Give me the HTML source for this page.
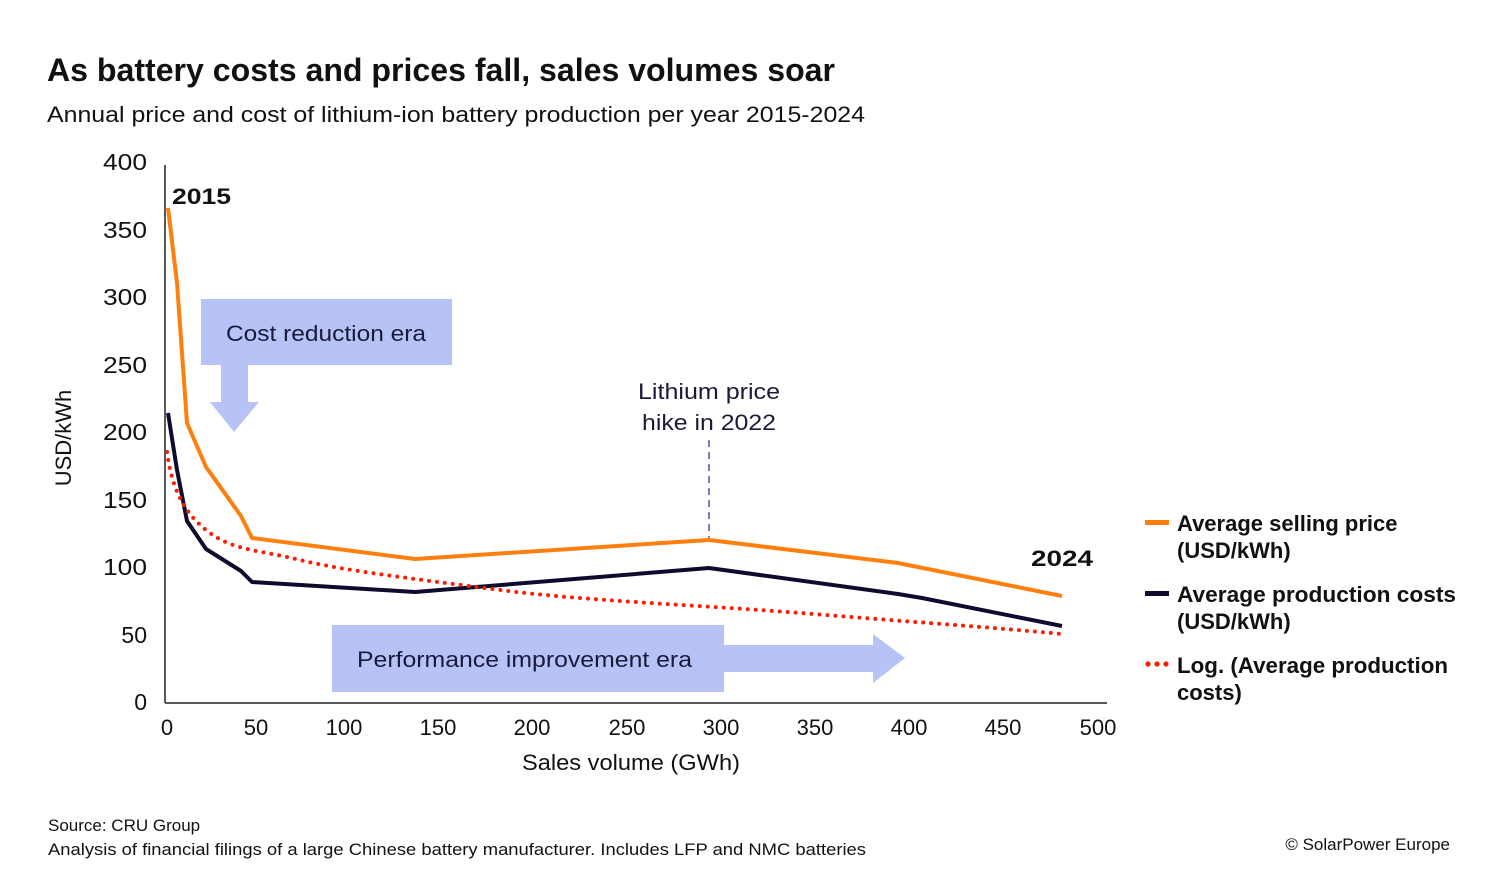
<!DOCTYPE html>
<html><head><meta charset="utf-8"><style>
html,body{margin:0;padding:0;background:#fff;}
svg{display:block;font-family:"Liberation Sans",sans-serif;}
</style></head><body>
<svg width="1500" height="876" viewBox="0 0 1500 876" xmlns="http://www.w3.org/2000/svg">
<rect width="1500" height="876" fill="#fff"/>
<text x="47" y="81" font-size="32" font-weight="bold" fill="#111" textLength="788" lengthAdjust="spacingAndGlyphs">As battery costs and prices fall, sales volumes soar</text>
<text x="47" y="122" font-size="22" fill="#111" textLength="818" lengthAdjust="spacingAndGlyphs">Annual price and cost of lithium-ion battery production per year 2015-2024</text>

<!-- boxes -->
<rect x="201" y="299" width="251" height="66" fill="#b7c3f6"/>
<rect x="221" y="365" width="27" height="37" fill="#b7c3f6"/>
<polygon points="210,402 259,402 234,432" fill="#b7c3f6"/>
<text x="226" y="341" font-size="22" fill="#1a1a3a" textLength="200" lengthAdjust="spacingAndGlyphs">Cost reduction era</text>
<rect x="332" y="625" width="392" height="67" fill="#b7c3f6"/>
<rect x="724" y="645" width="149" height="27" fill="#b7c3f6"/>
<polygon points="873,634 905,658 873,683" fill="#b7c3f6"/>
<text x="357" y="667" font-size="22" fill="#1a1a3a" textLength="335" lengthAdjust="spacingAndGlyphs">Performance improvement era</text>

<!-- axes -->
<line x1="165" y1="165" x2="165" y2="703" stroke="#222" stroke-width="1.5"/>
<line x1="165" y1="703" x2="1107" y2="703" stroke="#222" stroke-width="1.5"/>
<g font-size="23" fill="#111" text-anchor="end">
<text x="147" y="170" textLength="44" lengthAdjust="spacingAndGlyphs">400</text><text x="147" y="238" textLength="44" lengthAdjust="spacingAndGlyphs">350</text><text x="147" y="305" textLength="44" lengthAdjust="spacingAndGlyphs">300</text>
<text x="147" y="373" textLength="44" lengthAdjust="spacingAndGlyphs">250</text><text x="147" y="440" textLength="44" lengthAdjust="spacingAndGlyphs">200</text><text x="147" y="508" textLength="44" lengthAdjust="spacingAndGlyphs">150</text>
<text x="147" y="575" textLength="44" lengthAdjust="spacingAndGlyphs">100</text><text x="147" y="643">50</text><text x="147" y="710">0</text>
</g>
<g font-size="22" fill="#111" text-anchor="middle">
<text x="167" y="735">0</text><text x="256" y="735">50</text><text x="344" y="735">100</text>
<text x="438" y="735">150</text><text x="532" y="735">200</text><text x="627" y="735">250</text>
<text x="721" y="735">300</text><text x="815" y="735">350</text><text x="909" y="735">400</text>
<text x="1003" y="735">450</text><text x="1098" y="735">500</text>
<text x="631" y="770" textLength="218" lengthAdjust="spacingAndGlyphs">Sales volume (GWh)</text>
</g>
<text transform="translate(71,438) rotate(-90)" font-size="22" fill="#111" text-anchor="middle">USD/kWh</text>

<!-- dashed annotation -->
<line x1="709" y1="440" x2="709" y2="538" stroke="#55559a" stroke-width="1.5" stroke-dasharray="7,5"/>
<text x="709" y="399" font-size="22" fill="#1a1a3a" text-anchor="middle" textLength="142" lengthAdjust="spacingAndGlyphs">Lithium price</text>
<text x="709" y="430" font-size="22" fill="#1a1a3a" text-anchor="middle" textLength="134" lengthAdjust="spacingAndGlyphs">hike in 2022</text>

<!-- series -->
<polyline fill="none" stroke="#ff7f0e" stroke-width="4" stroke-linejoin="round" points="168,208 177,283 187,423 206,467 241,516 252,538 415,559 709,540 898,563 1062,596"/>
<polyline fill="none" stroke="#0d0b2e" stroke-width="4" stroke-linejoin="round" points="168,413 177,470 187,521 206,549 241,571 252,582 415,592 709,568 898,594 922,598 1062,626"/>
<path fill="none" stroke="#ff1a00" stroke-width="4" stroke-linecap="round" stroke-dasharray="0,8" d="M167,452 C172,490 185,515 210,533 S260,550 300,560 S415,579 500,590 S700,605 800,613 S1000,628 1062,634"/>

<text x="172" y="204" font-size="22" font-weight="bold" fill="#111" textLength="59" lengthAdjust="spacingAndGlyphs">2015</text>
<text x="1031" y="566" font-size="22" font-weight="bold" fill="#111" textLength="62" lengthAdjust="spacingAndGlyphs">2024</text>

<!-- legend -->
<rect x="1145" y="520" width="24" height="5" fill="#ff7f0e"/>
<rect x="1145" y="591" width="24" height="5" fill="#0d0b2e"/>
<g fill="#ff1a00"><circle cx="1148" cy="664" r="2.6"/><circle cx="1157" cy="664" r="2.6"/><circle cx="1166" cy="664" r="2.6"/></g>
<g font-size="22" font-weight="bold" fill="#111">
<text x="1177" y="531">Average selling price</text>
<text x="1177" y="558">(USD/kWh)</text>
<text x="1177" y="602" textLength="279" lengthAdjust="spacingAndGlyphs">Average production costs</text>
<text x="1177" y="629">(USD/kWh)</text>
<text x="1177" y="673" textLength="271" lengthAdjust="spacingAndGlyphs">Log. (Average production</text>
<text x="1177" y="700">costs)</text>
</g>

<text x="48" y="831" font-size="17" fill="#111">Source: CRU Group</text>
<text x="48" y="855" font-size="17" fill="#111" textLength="818" lengthAdjust="spacingAndGlyphs">Analysis of financial filings of a large Chinese battery manufacturer. Includes LFP and NMC batteries</text>
<text x="1450" y="850" font-size="17" fill="#111" text-anchor="end">© SolarPower Europe</text>
</svg>
</body></html>
